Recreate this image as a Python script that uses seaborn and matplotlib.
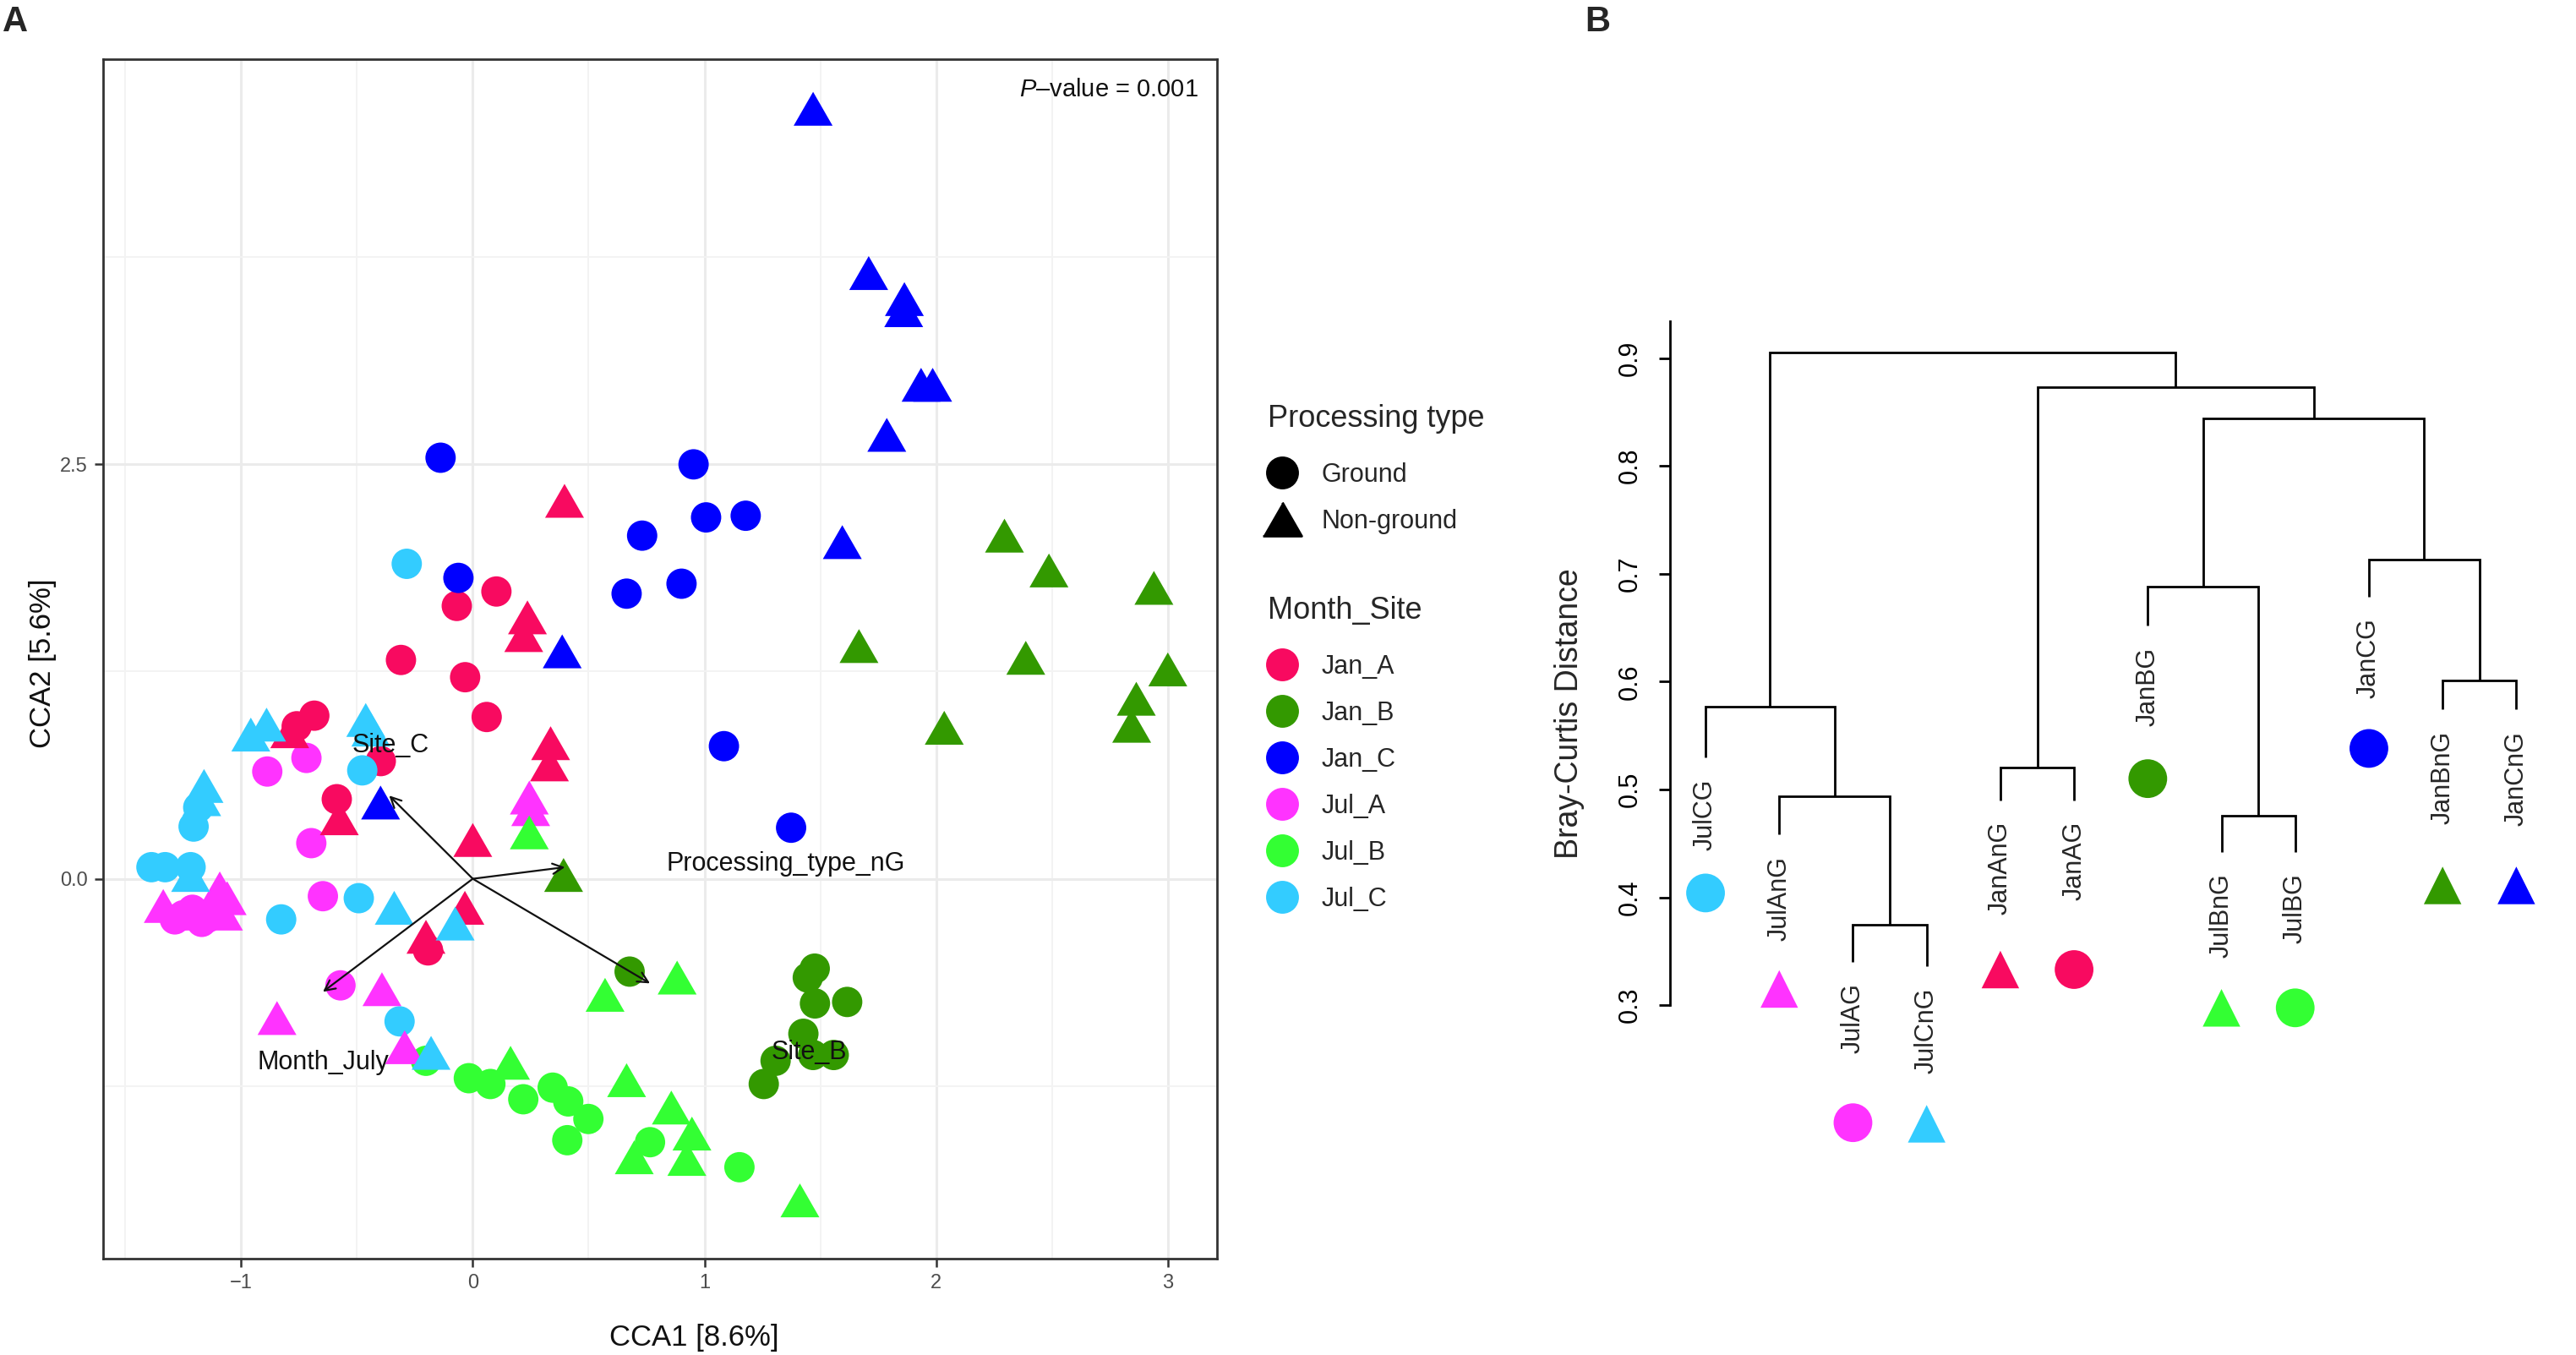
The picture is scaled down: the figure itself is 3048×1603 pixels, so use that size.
import matplotlib
matplotlib.use("Agg")
import matplotlib.pyplot as plt
from matplotlib.lines import Line2D
from matplotlib.markers import MarkerStyle
import seaborn as sns
import pandas as pd
import numpy as np

# ---------------- Panel A: CCA site scores ----------------
jan_a_g_x = [-0.31, -0.069, 0.102, -0.033, 0.06, -0.684, -0.76, -0.397, -0.587, -0.193]
jan_a_g_y = [1.32, 1.646, 1.733, 1.216, 0.976, 0.984, 0.92, 0.71, 0.48, -0.432]
jan_a_n_x = [0.396, 0.236, 0.22, 0.336, 0.331, -0.79, -0.576, 0.0, -0.034, -0.202]
jan_a_n_y = [2.28, 1.577, 1.47, 0.818, 0.69, 0.89, 0.365, 0.234, -0.175, -0.35]

jan_b_g_x = [0.677, 1.476, 1.446, 1.477, 1.616, 1.427, 1.469, 1.558, 1.307, 1.256]
jan_b_g_y = [-0.56, -0.542, -0.596, -0.752, -0.743, -0.935, -1.063, -1.063, -1.098, -1.238]
jan_b_n_x = [2.295, 2.487, 2.94, 1.667, 2.387, 3.0, 2.035, 2.864, 2.844, 0.392]
jan_b_n_y = [2.07, 1.86, 1.755, 1.404, 1.333, 1.263, 0.911, 1.086, 0.923, 0.023]

jan_c_g_x = [-0.139, 0.953, 0.731, 1.007, 1.178, 0.901, 0.664, -0.062, 1.084, 1.374]
jan_c_g_y = [2.54, 2.5, 2.07, 2.18, 2.19, 1.78, 1.72, 1.815, 0.80, 0.308]
jan_c_n_x = [1.469, 1.709, 1.863, 1.86, 1.935, 1.985, 1.787, 1.595, 0.386, -0.398]
jan_c_n_y = [4.645, 3.654, 3.497, 3.43, 2.98, 2.98, 2.678, 2.031, 1.372, 0.46]

jul_a_g_x = [-0.887, -0.718, -0.697, -0.647, -0.571, -1.286, -1.21, -1.143, -1.17, -1.25]
jul_a_g_y = [0.647, 0.729, 0.215, -0.105, -0.643, -0.245, -0.187, -0.234, -0.26, -0.22]
jul_a_n_x = [0.244, 0.25, -1.336, -1.092, -1.06, -1.076, -1.235, -0.392, -0.845, -0.294]
jul_a_n_y = [0.49, 0.42, -0.164, -0.058, -0.117, -0.21, -0.21, -0.666, -0.84, -1.016]

jul_b_g_x = [-0.202, -0.017, 0.076, 0.218, 0.345, 0.412, 0.499, 0.408, 0.765, 1.151]
jul_b_g_y = [-1.098, -1.203, -1.238, -1.33, -1.26, -1.343, -1.449, -1.577, -1.589, -1.74]
jul_b_n_x = [0.244, 0.571, 0.882, 0.163, 0.664, 0.857, 0.946, 0.697, 0.924, 1.412]
jul_b_n_y = [0.28, -0.70, -0.596, -1.11, -1.215, -1.38, -1.537, -1.68, -1.69, -1.94]

jul_c_g_x = [-0.285, -0.477, -1.185, -1.205, -1.387, -1.328, -1.218, -0.827, -0.492, -0.316]
jul_c_g_y = [1.90, 0.654, 0.43, 0.315, 0.07, 0.07, 0.07, -0.245, -0.117, -0.86]
jul_c_n_x = [-0.958, -0.89, -0.462, -0.44, -1.16, -1.17, -1.218, -0.339, -0.076, -0.18]
jul_c_n_y = [0.87, 0.93, 0.958, 0.90, 0.56, 0.48, 0.023, -0.175, -0.27, -1.05]

# biplot arrows (environmental variables)
arrow_labels = ["Site_C", "Processing_type_nG", "Site_B", "Month_July"]
arrow_x = [-0.361, 0.398, 0.765, -0.647]
arrow_y = [0.502, 0.07, -0.631, -0.682]
arrow_label_x = [-0.353, 1.352, 1.452, -0.647]
arrow_label_y = [0.806, 0.089, -1.047, -1.11]

groups = ["Jan_A", "Jan_B", "Jan_C", "Jul_A", "Jul_B", "Jul_C"]
group_colors = ["#F80A60", "#339900", "#0000FF", "#FF33FF", "#33FF33", "#33CCFF"]
palette = dict(zip(groups, group_colors))

# ---------------- Panel B: Bray-Curtis dendrogram ----------------
leaf_labels = ["JulCG", "JulAnG", "JulAG", "JulCnG", "JanAnG", "JanAG",
               "JanBG", "JulBnG", "JulBG", "JanCG", "JanBnG", "JanCnG"]
leaf_group = ["Jul_C", "Jul_A", "Jul_A", "Jul_C", "Jan_A", "Jan_A",
              "Jan_B", "Jul_B", "Jul_B", "Jan_C", "Jan_B", "Jan_C"]
leaf_type = ["Ground", "Non-ground", "Ground", "Non-ground", "Non-ground", "Ground",
             "Ground", "Non-ground", "Ground", "Ground", "Non-ground", "Non-ground"]
leaf_end = [0.530, 0.458, 0.340, 0.336, 0.490, 0.490, 0.652, 0.442, 0.442, 0.679, 0.574, 0.574]
symbol_height = [0.404, 0.315, 0.191, 0.19, 0.333, 0.333, 0.51, 0.2975, 0.2975, 0.538, 0.411, 0.411]
# hclust-style merge table: negative = leaf (1-based), positive = earlier merge
merge_pairs = [(-3, -4), (-2, 1), (-1, 2), (-5, -6), (-8, -9), (-7, 5),
               (-11, -12), (-10, 7), (6, 8), (4, 9), (3, 10)]
merge_height = [0.3746, 0.494, 0.577, 0.520, 0.4754, 0.688, 0.601, 0.713, 0.844, 0.873, 0.905]


sns.set_style("white")
plt.rcParams["font.family"] = ["Liberation Sans", "DejaVu Sans"]
plt.rcParams["mathtext.fontset"] = "custom"
plt.rcParams["mathtext.rm"] = "Liberation Sans"
plt.rcParams["mathtext.it"] = "Liberation Sans:italic"

TRI = MarkerStyle([(-1, -0.87), (1, -0.87), (0, 0.87)])

scores = {
    ("Jan_A", "Ground"): (jan_a_g_x, jan_a_g_y), ("Jan_A", "Non-ground"): (jan_a_n_x, jan_a_n_y),
    ("Jan_B", "Ground"): (jan_b_g_x, jan_b_g_y), ("Jan_B", "Non-ground"): (jan_b_n_x, jan_b_n_y),
    ("Jan_C", "Ground"): (jan_c_g_x, jan_c_g_y), ("Jan_C", "Non-ground"): (jan_c_n_x, jan_c_n_y),
    ("Jul_A", "Ground"): (jul_a_g_x, jul_a_g_y), ("Jul_A", "Non-ground"): (jul_a_n_x, jul_a_n_y),
    ("Jul_B", "Ground"): (jul_b_g_x, jul_b_g_y), ("Jul_B", "Non-ground"): (jul_b_n_x, jul_b_n_y),
    ("Jul_C", "Ground"): (jul_c_g_x, jul_c_g_y), ("Jul_C", "Non-ground"): (jul_c_n_x, jul_c_n_y),
}
df = pd.concat(
    [pd.DataFrame({"CCA1": x, "CCA2": y, "Month_Site": g, "Processing": p})
     for (g, p), (x, y) in scores.items()],
    ignore_index=True,
)

fig = plt.figure(figsize=(15.24, 8.015), dpi=200)
fig.patch.set_facecolor("white")

# ---- panel A ----
axA = fig.add_axes([0.0399, 0.0713, 0.4326, 0.885])
for ptype, marker, s in [("Ground", "o", 167), ("Non-ground", TRI, 275)]:
    sub = df[df["Processing"] == ptype]
    sns.scatterplot(data=sub, x="CCA1", y="CCA2", hue="Month_Site", palette=palette,
                    marker=marker, s=s, linewidth=0, edgecolor="none",
                    legend=False, ax=axA, zorder=3)

for lab, ax_, ay_, lx, ly in zip(arrow_labels, arrow_x, arrow_y, arrow_label_x, arrow_label_y):
    axA.annotate("", xy=(ax_, ay_), xytext=(0, 0),
                 arrowprops=dict(arrowstyle="->", lw=0.8, color="#111111",
                                 shrinkA=0, shrinkB=0, mutation_scale=11),
                 zorder=4)
    axA.text(lx, ly, lab, ha="center", va="center", fontsize=11, color="#111111", zorder=5)

axA.set_xlim(-1.597, 3.213)
axA.set_ylim(-2.29, 4.944)
axA.set_xticks([-1, 0, 1, 2, 3])
axA.set_xticks([-1.5, -0.5, 0.5, 1.5, 2.5], minor=True)
axA.set_yticks([0, 2.5])
axA.set_yticklabels(["0.0", "2.5"])
axA.set_yticks([-1.25, 1.25, 3.75], minor=True)
axA.set_axisbelow(True)
axA.grid(which="major", color="#EBEBEB", lw=1.1)
axA.grid(which="minor", color="#F3F3F3", lw=0.7)
for sp in axA.spines.values():
    sp.set_color("#333333")
    sp.set_linewidth(1.0)
axA.tick_params(which="major", length=3.5, width=0.9, color="#333333",
                labelcolor="#4D4D4D", labelsize=8.5, pad=3,
                bottom=True, left=True)
axA.tick_params(which="minor", length=0)
axA.set_xlabel("CCA1 [8.6%]", fontsize=12.5, color="#111111")
axA.set_ylabel("CCA2 [5.6%]", fontsize=12.5, color="#111111")
axA.xaxis.label.set_va("center")
axA.yaxis.label.set_va("center")
axA.xaxis.set_label_coords(0.531, -0.0664)
axA.yaxis.set_label_coords(-0.0543, 0.496)
axA.text(0.983, 0.975, "$P$\u2013value = 0.001", transform=axA.transAxes,
         ha="right", va="center", fontsize=10.5, color="#111111")

# legends
legend_kw = dict(loc="upper left", frameon=False, fontsize=11, title_fontsize=13,
                 handlelength=1.165, handletextpad=0.93, labelspacing=0.82,
                 borderpad=0, borderaxespad=0, alignment="left")
h_type = [Line2D([], [], ls="none", marker="o", color="black", markersize=13),
          Line2D([], [], ls="none", marker=TRI, color="black", markersize=16.5)]
leg1 = fig.legend(h_type, ["Ground", "Non-ground"], title="Processing type",
                  bbox_to_anchor=(0.492, 0.7015), **legend_kw)
h_grp = [Line2D([], [], ls="none", marker="o", color=palette[g], markersize=13)
         for g in groups]
leg2 = fig.legend(h_grp, groups, title="Month_Site",
                  bbox_to_anchor=(0.492, 0.5600), **legend_kw)
for leg in (leg1, leg2):
    leg._legend_box.sep = 12.0  # gap between legend title and first key

# ---- panel B ----
axB = fig.add_axes([0.6483, 0.1388, 0.3457, 0.6368])
axB.set_xlim(0.518, 12.6)
axB.set_ylim(0.15, 0.95)

leaf_pos = np.arange(1, len(leaf_labels) + 1)
node_x, node_y = [], []
for (a, b), h in zip(merge_pairs, merge_height):
    pts = []
    for c in (a, b):
        if c < 0:
            pts.append((leaf_pos[-c - 1], leaf_end[-c - 1]))
        else:
            pts.append((node_x[c - 1], node_y[c - 1]))
    (xa, ya), (xb, yb) = pts
    axB.plot([xa, xa, xb, xb], [ya, h, h, yb], color="black", lw=1.0,
             solid_joinstyle="miter", solid_capstyle="butt")
    node_x.append((xa + xb) / 2)
    node_y.append(h)

for x, lab, yend in zip(leaf_pos, leaf_labels, leaf_end):
    axB.text(x, yend - 0.02, lab, rotation=90, ha="center", va="top", fontsize=11)

leaves = pd.DataFrame({"pos": leaf_pos, "height": symbol_height,
                       "Month_Site": leaf_group, "Processing": leaf_type})
for ptype, marker, s in [("Ground", "o", 272), ("Non-ground", "^", 256)]:
    sub = leaves[leaves["Processing"] == ptype]
    sns.scatterplot(data=sub, x="pos", y="height", hue="Month_Site", palette=palette,
                    marker=marker, s=s, linewidth=0, edgecolor="none",
                    legend=False, ax=axB, clip_on=False)

for side in ["top", "right", "bottom"]:
    axB.spines[side].set_visible(False)
axB.spines["left"].set_bounds(0.3, 0.934)
axB.spines["left"].set_color("black")
axB.spines["left"].set_linewidth(1.0)
yt = [0.3, 0.4, 0.5, 0.6, 0.7, 0.8, 0.9]
axB.set_yticks(yt)
axB.set_yticklabels([f"{v:.1f}" for v in yt], rotation=90, va="center")
axB.set_xticks([])
axB.tick_params(axis="y", length=4.7, width=1.0, color="black", pad=7,
                labelsize=11, labelcolor="black", left=True)
axB.set_xlabel("")
axB.set_ylabel("Bray-Curtis Distance", fontsize=13.5)
axB.yaxis.label.set_va("center")
axB.yaxis.set_label_coords(-0.1125, 0.525)

fig.text(0.001, 0.996, "A", fontsize=15, fontweight="bold", ha="left", va="top")
fig.text(0.6152, 0.996, "B", fontsize=15, fontweight="bold", ha="left", va="top")

fig.savefig("out.png", dpi=200, facecolor="white")
